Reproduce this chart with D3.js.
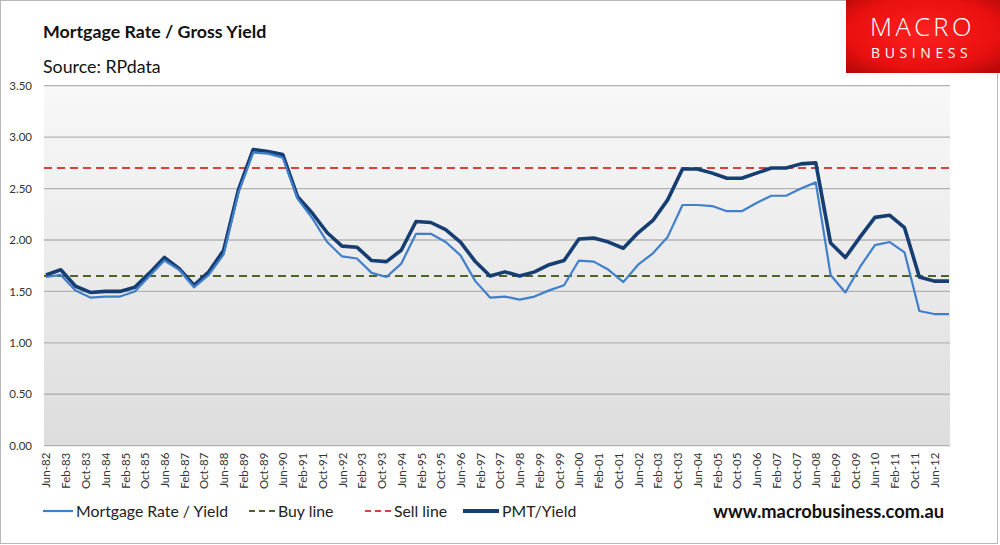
<!DOCTYPE html>
<html>
<head>
<meta charset="utf-8">
<script src="https://cdnjs.cloudflare.com/ajax/libs/d3/7.8.5/d3.min.js"></script>
<style>
  html, body { margin: 0; padding: 0; background: #fff; }
  svg { display: block; font-family: Lato, "Open Sans", sans-serif; }
</style>
</head>
<body>
<div id="chart"></div>
<script>
// semi-annual observations, Jun-82 .. Dec-12
var periods = ["Jun-82","Dec-82","Jun-83","Dec-83","Jun-84","Dec-84","Jun-85","Dec-85","Jun-86","Dec-86",
  "Jun-87","Dec-87","Jun-88","Dec-88","Jun-89","Dec-89","Jun-90","Dec-90","Jun-91","Dec-91",
  "Jun-92","Dec-92","Jun-93","Dec-93","Jun-94","Dec-94","Jun-95","Dec-95","Jun-96","Dec-96",
  "Jun-97","Dec-97","Jun-98","Dec-98","Jun-99","Dec-99","Jun-00","Dec-00","Jun-01","Dec-01",
  "Jun-02","Dec-02","Jun-03","Dec-03","Jun-04","Dec-04","Jun-05","Dec-05","Jun-06","Dec-06",
  "Jun-07","Dec-07","Jun-08","Dec-08","Jun-09","Dec-09","Jun-10","Dec-10","Jun-11","Dec-11",
  "Jun-12","Dec-12"];

var mortgageYield = [1.64,1.66,1.51,1.44,1.45,1.45,1.50,1.65,1.80,1.71,
  1.54,1.66,1.86,2.46,2.85,2.84,2.80,2.40,2.21,1.98,
  1.84,1.82,1.68,1.64,1.77,2.06,2.06,1.98,1.85,1.60,
  1.44,1.45,1.42,1.45,1.51,1.56,1.80,1.79,1.71,1.59,
  1.76,1.87,2.03,2.34,2.34,2.33,2.28,2.28,2.36,2.43,
  2.43,2.50,2.56,1.66,1.49,1.74,1.95,1.98,1.88,1.31,
  1.28,1.28];

var pmtYield = [1.66,1.71,1.55,1.49,1.50,1.50,1.54,1.68,1.83,1.72,
  1.56,1.69,1.90,2.49,2.88,2.86,2.83,2.42,2.26,2.07,
  1.94,1.93,1.80,1.79,1.90,2.18,2.17,2.10,1.98,1.79,
  1.65,1.69,1.65,1.69,1.76,1.80,2.01,2.02,1.98,1.92,
  2.07,2.19,2.39,2.69,2.69,2.65,2.60,2.60,2.65,2.70,
  2.70,2.74,2.75,1.97,1.83,2.03,2.22,2.24,2.12,1.64,
  1.60,1.60];

var buyLine = 1.65;
var sellLine = 2.70;

var yTicks = [0, 0.5, 1.0, 1.5, 2.0, 2.5, 3.0, 3.5];

var xTickLabels = ["Jun-82","Feb-83","Oct-83","Jun-84","Feb-85","Oct-85","Jun-86","Feb-87","Oct-87","Jun-88",
  "Feb-89","Oct-89","Jun-90","Feb-91","Oct-91","Jun-92","Feb-93","Oct-93","Jun-94","Feb-95",
  "Oct-95","Jun-96","Feb-97","Oct-97","Jun-98","Feb-99","Oct-99","Jun-00","Feb-01","Oct-01",
  "Jun-02","Feb-03","Oct-03","Jun-04","Feb-05","Oct-05","Jun-06","Feb-07","Oct-07","Jun-08",
  "Feb-09","Oct-09","Jun-10","Feb-11","Oct-11","Jun-12"];

var legendItems = [
  {name: "Mortgage Rate / Yield", color: "#3f7fcb", width: 2, dash: null},
  {name: "Buy line", color: "#4f6228", width: 2, dash: "6,4"},
  {name: "Sell line", color: "#d9413d", width: 2, dash: "6,4"},
  {name: "PMT/Yield", color: "#173e72", width: 4, dash: null}
];

var W = 1000, H = 545;
var plot = {left: 44, right: 950, top: 85.7, bottom: 445.7};
var parse = d3.timeParse("%b-%y");

var svg = d3.select("#chart").append("svg")
  .attr("width", W).attr("height", H);

var defs = svg.append("defs");
var bg = defs.append("linearGradient").attr("id", "plotBg")
  .attr("x1", 0).attr("y1", 0).attr("x2", 0).attr("y2", 1);
bg.append("stop").attr("offset", "0%").attr("stop-color", "#f8f8f8");
bg.append("stop").attr("offset", "100%").attr("stop-color", "#dddddd");

var logoBg = defs.append("radialGradient").attr("id", "logoBg")
  .attr("cx", "50%").attr("cy", "45%").attr("r", "70%");
logoBg.append("stop").attr("offset", "0%").attr("stop-color", "#ff2020");
logoBg.append("stop").attr("offset", "70%").attr("stop-color", "#e81010");
logoBg.append("stop").attr("offset", "100%").attr("stop-color", "#b80808");

// outer frame
svg.append("rect")
  .attr("x", 0.5).attr("y", 0.5).attr("width", 997).attr("height", 543)
  .attr("fill", "#fff").attr("stroke", "#b8b8b8").attr("stroke-width", 1);

// scales
var x = d3.scaleTime()
  .domain([d3.timeDay.offset(parse("Jun-82"), -24), d3.timeDay.offset(parse("Dec-12"), 12)])
  .range([plot.left, plot.right]);
var y = d3.scaleLinear().domain([0, 3.5]).range([plot.bottom, plot.top]);

// plot background
svg.append("rect")
  .attr("x", plot.left).attr("y", plot.top)
  .attr("width", plot.right - plot.left).attr("height", plot.bottom - plot.top)
  .attr("fill", "url(#plotBg)");

// gridlines
svg.append("g").selectAll("line").data(yTicks).join("line")
  .attr("x1", plot.left).attr("x2", plot.right)
  .attr("y1", function (d) { return y(d); }).attr("y2", function (d) { return y(d); })
  .attr("stroke", "#b3b3b3").attr("stroke-width", 1.3);

// y labels
var yAxis = d3.axisLeft(y).tickValues(yTicks).tickFormat(d3.format(".2f")).tickSize(0).tickPadding(12);
var gy = svg.append("g").attr("transform", "translate(" + plot.left + ",0)").call(yAxis);
gy.select(".domain").remove();
gy.selectAll("text").attr("font-family", "Lato, sans-serif").attr("font-size", 11.5).attr("fill", "#333");

// x labels
var xAxis = d3.axisBottom(x).tickValues(xTickLabels.map(parse))
  .tickFormat(d3.timeFormat("%b-%y")).tickSize(0);
var gx = svg.append("g").attr("transform", "translate(0," + plot.bottom + ")").call(xAxis);
gx.select(".domain").remove();
gx.selectAll("text")
  .attr("transform", "rotate(-90)")
  .attr("text-anchor", "end")
  .attr("dy", "0.35em")
  .attr("x", -7).attr("y", 0)
  .attr("font-family", "Lato, sans-serif").attr("font-size", 11.5).attr("fill", "#333");

// buy / sell lines
function hline(v, item) {
  svg.append("line")
    .attr("x1", plot.left).attr("x2", plot.right)
    .attr("y1", y(v)).attr("y2", y(v))
    .attr("stroke", item.color).attr("stroke-width", 2.2)
    .attr("stroke-dasharray", "8,5");
}
hline(buyLine, legendItems[1]);
hline(sellLine, legendItems[2]);

// series
var line = d3.line()
  .x(function (d, i) { return x(parse(periods[i])); })
  .y(function (d) { return y(d); });

svg.append("path").datum(pmtYield)
  .attr("d", line).attr("fill", "none")
  .attr("stroke", legendItems[3].color).attr("stroke-width", 3.6)
  .attr("stroke-linejoin", "round");

svg.append("path").datum(mortgageYield)
  .attr("d", line).attr("fill", "none")
  .attr("stroke", legendItems[0].color).attr("stroke-width", 2.2)
  .attr("stroke-linejoin", "round");

// titles
svg.append("text").attr("x", 43).attr("y", 38)
  .attr("font-size", 17.8).attr("font-weight", "bold").attr("fill", "#111")
  .text("Mortgage Rate / Gross Yield");
svg.append("text").attr("x", 43).attr("y", 73)
  .attr("font-size", 17.8).attr("fill", "#111")
  .text("Source: RPdata");

// logo
var logo = svg.append("g");
logo.append("rect").attr("x", 846).attr("y", 0).attr("width", 154).attr("height", 73)
  .attr("fill", "url(#logoBg)");
logo.append("text").attr("x", 870).attr("y", 35.5)
  .attr("font-family", "'Open Sans', sans-serif").attr("fill", "#fff")
  .attr("font-weight", 300).attr("font-size", 25.5)
  .attr("letter-spacing", 3.4)
  .text("MACRO");
logo.append("text").attr("x", 871).attr("y", 58.2)
  .attr("font-family", "'Open Sans', sans-serif").attr("fill", "#fff")
  .attr("font-size", 14).attr("letter-spacing", 4.6)
  .text("BUSINESS");

// legend
var legendX = [43, 249, 365, 463];
var legendW = [30, 26, 26, 36];
var lg = svg.append("g").selectAll("g").data(legendItems).join("g")
  .attr("transform", function (d, i) { return "translate(" + legendX[i] + ",511)"; });
lg.append("line")
  .attr("x1", 0).attr("x2", function (d, i) { return legendW[i]; })
  .attr("y1", 0).attr("y2", 0)
  .attr("stroke", function (d) { return d.color; })
  .attr("stroke-width", function (d) { return d.width === 4 ? 4 : 2.2; })
  .attr("stroke-dasharray", function (d) { return d.dash; });
lg.append("text")
  .attr("x", function (d, i) { return legendW[i] + 3; }).attr("y", 6)
  .attr("font-size", 15.8).attr("fill", "#222")
  .text(function (d) { return d.name; });

svg.append("text").attr("x", 944).attr("y", 518).attr("text-anchor", "end")
  .attr("font-size", 18.3).attr("font-weight", "bold").attr("fill", "#111")
  .text("www.macrobusiness.com.au");
</script>
</body>
</html>
